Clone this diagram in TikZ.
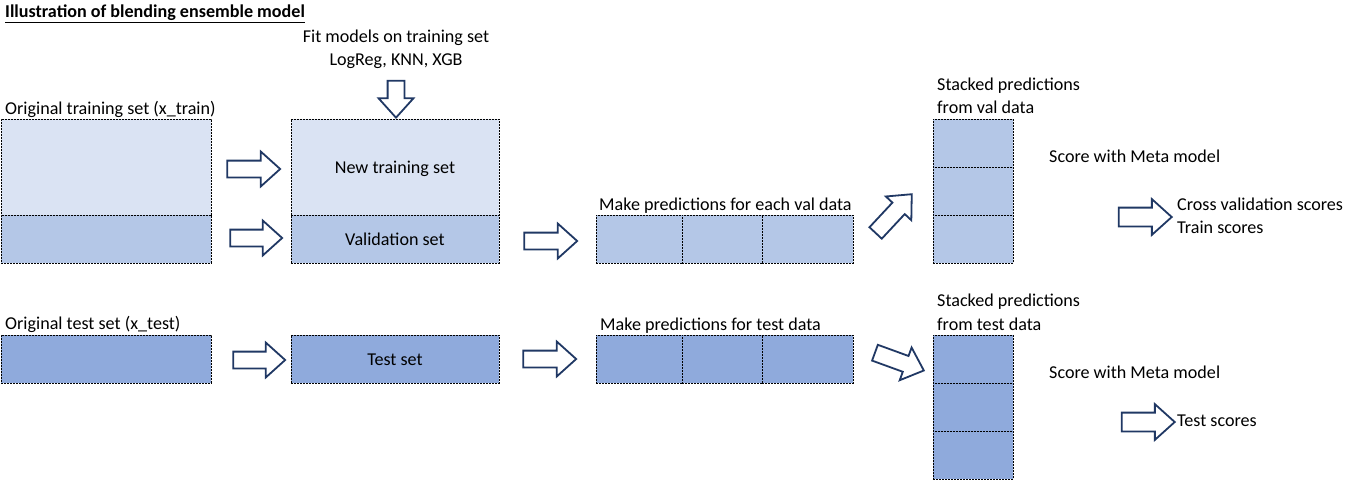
\documentclass[tikz,border=0pt]{standalone}
\usepackage{fontspec}
\setmainfont{Carlito}
\usetikzlibrary{shapes.arrows}
\definecolor{lightb}{HTML}{DAE3F3}
\definecolor{midb}{HTML}{B4C7E7}
\definecolor{darkb}{HTML}{8FAADC}
\definecolor{navy}{HTML}{203864}
\newcommand\reffont{\fontsize{18.1}{21}\selectfont}
\begin{document}
\begin{tikzpicture}[x=1pt,y=1pt,
  txt/.style={inner sep=0pt, anchor=base west, font=\reffont},
  ctxt/.style={inner sep=0pt, anchor=base, font=\reffont},
  box/.style={draw=black, line width=0.9pt, dash pattern=on 2pt off 1pt, inner sep=0pt, anchor=north west},
  lbox/.style={box, fill=lightb},
  mbox/.style={box, fill=midb},
  dbox/.style={box, fill=darkb},
  barrow/.style={single arrow, draw=navy, fill=white, line width=1.8pt, inner xsep=0pt, inner ysep=7.5pt, single arrow head extend=9pt, single arrow tip angle=84, minimum height=#1},
]
\useasboundingbox (0,0) rectangle (1348,-488);

% title
\node[txt, font=\reffont\bfseries] (title) at (5,-17.5) {\underline{Illustration of blending ensemble model}};

% fit models
\node[ctxt] (fit1) at (396,-42) {Fit models on training set};
\node[ctxt] (fit2) at (396,-65) {LogReg, KNN, XGB};
\node[barrow=37pt, rotate=-90] (adown) at (396,-94.5) {};

% original training set
\node[txt] (otlab) at (5,-114) {Original training set (x\_train)};
\node[lbox, minimum width=210pt, minimum height=96pt] (otA) at (1,-119) {};
\node[mbox, minimum width=210pt, minimum height=48pt] (otB) at (1,-215) {};

\node[barrow=53pt] (a1) at (249,-169) {};
\node[barrow=52pt] (a2) at (251.5,-238) {};

% new training / validation
\node[lbox, minimum width=208pt, minimum height=96pt] (nt) at (291,-119) {};
\node[ctxt] at (395,-173) {New training set};
\node[mbox, minimum width=208pt, minimum height=48pt] (vs) at (291,-215) {};
\node[ctxt] at (395,-245) {Validation set};

\node[barrow=53pt] (a3) at (546,-241) {};

% predictions val
\node[txt] (mpv) at (599,-210) {Make predictions for each val data};
\node[mbox, minimum width=86pt, minimum height=48pt] (pv1) at (596,-215) {};
\node[mbox, minimum width=80pt, minimum height=48pt] (pv2) at (682,-215) {};
\node[mbox, minimum width=91pt, minimum height=48pt] (pv3) at (762,-215) {};

\node[barrow=53pt, rotate=47] (a4) at (890.5,-217) {};

% stacked val
\node[txt] (sv1) at (937,-90) {Stacked predictions};
\node[txt] (sv2) at (937,-113) {from val data};
\node[mbox, minimum width=80pt, minimum height=48pt] (s1) at (933,-119) {};
\node[mbox, minimum width=80pt, minimum height=48pt] (s2) at (933,-167) {};
\node[mbox, minimum width=80pt, minimum height=48pt] (s3) at (933,-215) {};

\node[txt] (mm1) at (1049,-162) {Score with Meta model};
\node[barrow=53pt, inner ysep=8.5pt, single arrow head extend=8.5pt] (a5) at (1140,-217) {};
\node[txt] (cv) at (1177,-210) {Cross validation scores};
\node[txt] (trs) at (1177,-233) {Train scores};

% test row
\node[txt] (otest) at (5,-329) {Original test set (x\_test)};
\node[dbox, minimum width=210pt, minimum height=48pt] (te0) at (1,-335) {};
\node[barrow=52pt] (b1) at (254.5,-360) {};
\node[dbox, minimum width=208pt, minimum height=48pt] (te1) at (291,-335) {};
\node[ctxt] at (395,-365) {Test set};
\node[barrow=53pt] (b2) at (545,-359) {};

\node[txt] (mpt) at (600,-330) {Make predictions for test data};
\node[dbox, minimum width=86pt, minimum height=48pt] (pt1) at (596,-335) {};
\node[dbox, minimum width=80pt, minimum height=48pt] (pt2) at (682,-335) {};
\node[dbox, minimum width=91pt, minimum height=48pt] (pt3) at (762,-335) {};

\node[barrow=52pt, rotate=-20] (b3) at (895,-360) {};

\node[txt] (st1) at (937,-306) {Stacked predictions};
\node[txt] (st2) at (937,-330) {from test data};
\node[dbox, minimum width=80pt, minimum height=48pt] (t1) at (933,-335) {};
\node[dbox, minimum width=80pt, minimum height=48pt] (t2) at (933,-383) {};
\node[dbox, minimum width=80pt, minimum height=48pt] (t3) at (933,-431) {};

\node[txt] (mm2) at (1049,-378) {Score with Meta model};
\node[barrow=53pt, inner ysep=8.5pt, single arrow head extend=8.5pt] (b4) at (1143,-422) {};
\node[txt] (tsc) at (1177,-426) {Test scores};
\end{tikzpicture}
\end{document}
